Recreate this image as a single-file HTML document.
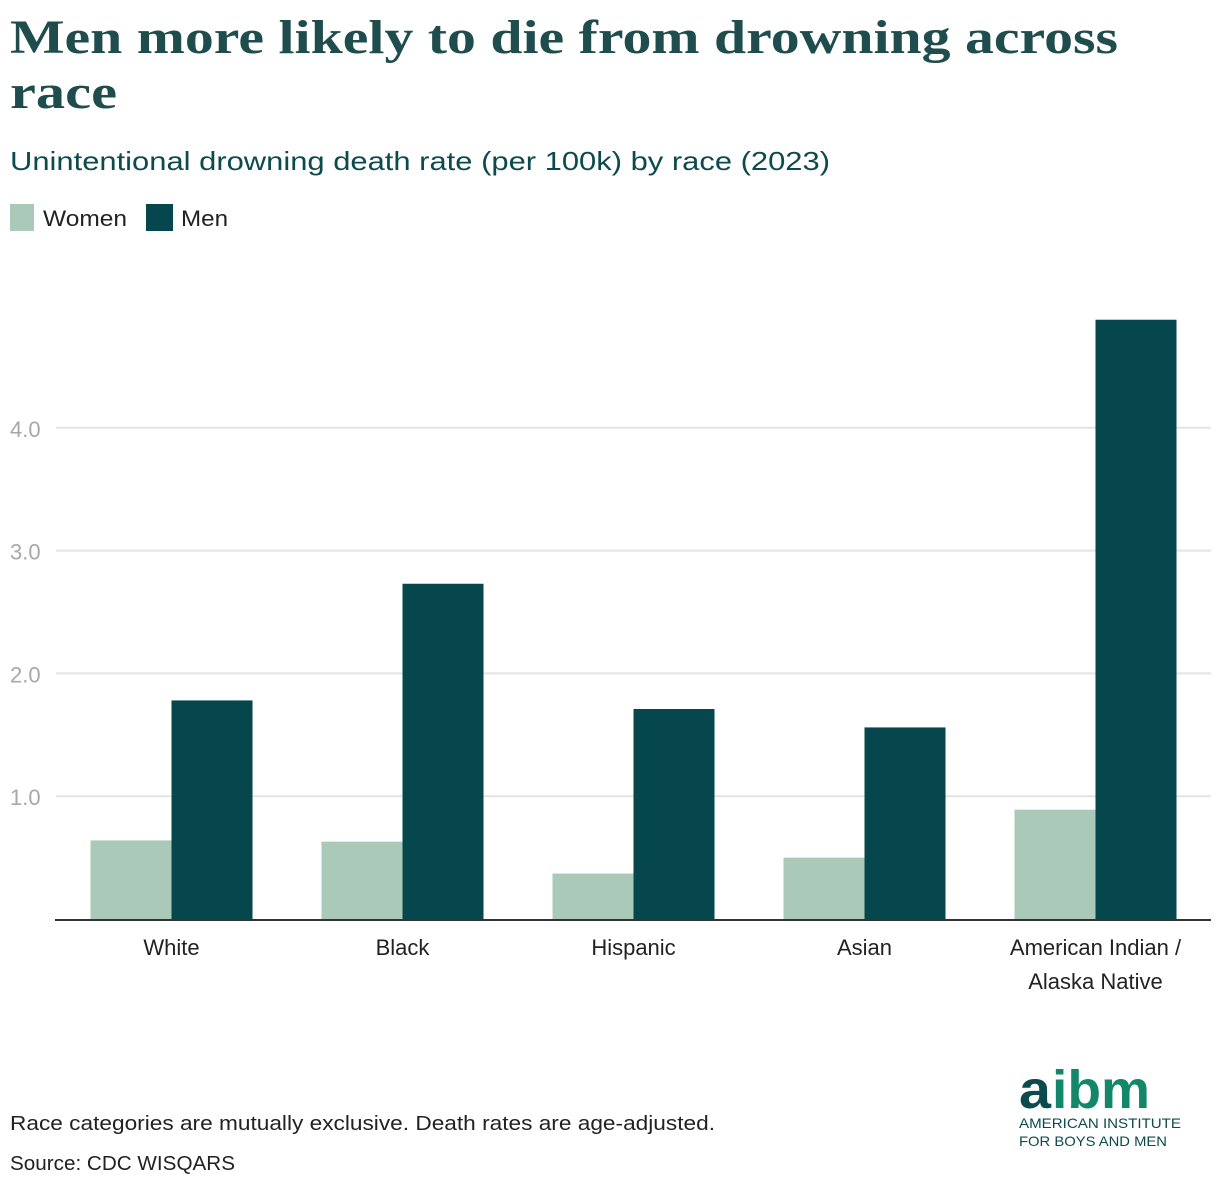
<!DOCTYPE html>
<html><head><meta charset="utf-8"><style>
html,body{margin:0;padding:0;background:#fff;}
svg{display:block;font-family:"Liberation Sans",sans-serif;}
</style></head><body>
<svg id="chart" width="1220" height="1186" viewBox="0 0 1220 1186">
<text x="10" y="53" font-family="Liberation Serif,serif" font-weight="bold" font-size="48" fill="#1f4c4c" textLength="1108" lengthAdjust="spacingAndGlyphs">Men more likely to die from drowning across</text>
<text x="10" y="108" font-family="Liberation Serif,serif" font-weight="bold" font-size="48" fill="#1f4c4c" textLength="107" lengthAdjust="spacingAndGlyphs">race</text>
<text x="10" y="170" font-size="26" fill="#0d4a4e" textLength="820" lengthAdjust="spacingAndGlyphs">Unintentional drowning death rate (per 100k) by race (2023)</text>
<rect x="10" y="204" width="24" height="27" fill="#abc9b9"/>
<text x="43" y="226" font-size="22" fill="#222" textLength="84" lengthAdjust="spacingAndGlyphs">Women</text>
<rect x="146" y="204" width="27" height="27" fill="#06474d"/>
<text x="181" y="226" font-size="22" fill="#222" textLength="47" lengthAdjust="spacingAndGlyphs">Men</text>
<g id="plot"></g>
<text x="10" y="1130" font-size="20" fill="#222" textLength="705" lengthAdjust="spacingAndGlyphs">Race categories are mutually exclusive. Death rates are age-adjusted.</text>
<text x="10" y="1170" font-size="20" fill="#222" textLength="225" lengthAdjust="spacingAndGlyphs">Source: CDC WISQARS</text>
<g>
<text x="1019" y="1108" font-size="54" font-weight="bold" fill="#0d4a4e" textLength="32" lengthAdjust="spacingAndGlyphs">a</text>
<text x="1052" y="1108" font-size="54" font-weight="bold" fill="#12876a" textLength="98" lengthAdjust="spacingAndGlyphs">ibm</text>
<text x="1019" y="1128" font-size="14" fill="#0d4a4e" textLength="162" lengthAdjust="spacingAndGlyphs">AMERICAN INSTITUTE</text>
<text x="1019" y="1146" font-size="14" fill="#0d4a4e" textLength="148" lengthAdjust="spacingAndGlyphs">FOR BOYS AND MEN</text>
</g>
</svg>
<script>
const categories = ["White","Black","Hispanic","Asian","American Indian / Alaska Native"];
const womenValues = [0.64, 0.63, 0.37, 0.50, 0.89];
const menValues = [1.78, 2.73, 1.71, 1.56, 4.88];
const yTicks = [1, 2, 3, 4];
const yTickLabels = ["1.0","2.0","3.0","4.0"];

const NS = "http://www.w3.org/2000/svg";
const plot = document.getElementById("plot");
const x0 = 56, x1 = 1211, yBase = 919, pxPerUnit = 122.8;
const band = (x1 - x0) / categories.length;
const barW = 81;
function y(v){ return yBase - v * pxPerUnit; }
function bandCenter(i){ return x0 + band * (i + 0.5); }
function mk(tag, attrs){ const e = document.createElementNS(NS, tag); for (const k in attrs) e.setAttribute(k, attrs[k]); plot.appendChild(e); return e; }

yTicks.forEach((t, i) => {
  const g = mk("line", {x1: x0, x2: x1, y1: y(t), y2: y(t), stroke: "#e3e3e3", "stroke-width": 2});
  
  
  const l = mk("text", {x: 10, y: y(t) + 9, "font-size": 22, fill: "#a8a8a8"});
  l.textContent = yTickLabels[i];
  
  
});

categories.forEach((c, i) => {
  const cx = bandCenter(i);
  const w = mk("rect", {x: cx - barW, y: y(womenValues[i]), width: barW, height: womenValues[i] * pxPerUnit, fill: "#abc9b9"});
  
  
  const m = mk("rect", {x: cx, y: y(menValues[i]), width: barW, height: menValues[i] * pxPerUnit, fill: "#06474d"});
  
  
  const parts = c.indexOf(" / ") >= 0 ? [c.split(" / ")[0] + " /", c.split(" / ")[1]] : [c];
  parts.forEach((p, j) => {
    const t = mk("text", {x: cx, y: 955 + j * 34, "font-size": 22, fill: "#222", "text-anchor": "middle"});
    t.textContent = p;
    
    
  });
});

const base = mk("line", {x1: x0 - 1, x2: x1, y1: yBase + 1, y2: yBase + 1, stroke: "#333", "stroke-width": 2});


</script>
</body></html>
